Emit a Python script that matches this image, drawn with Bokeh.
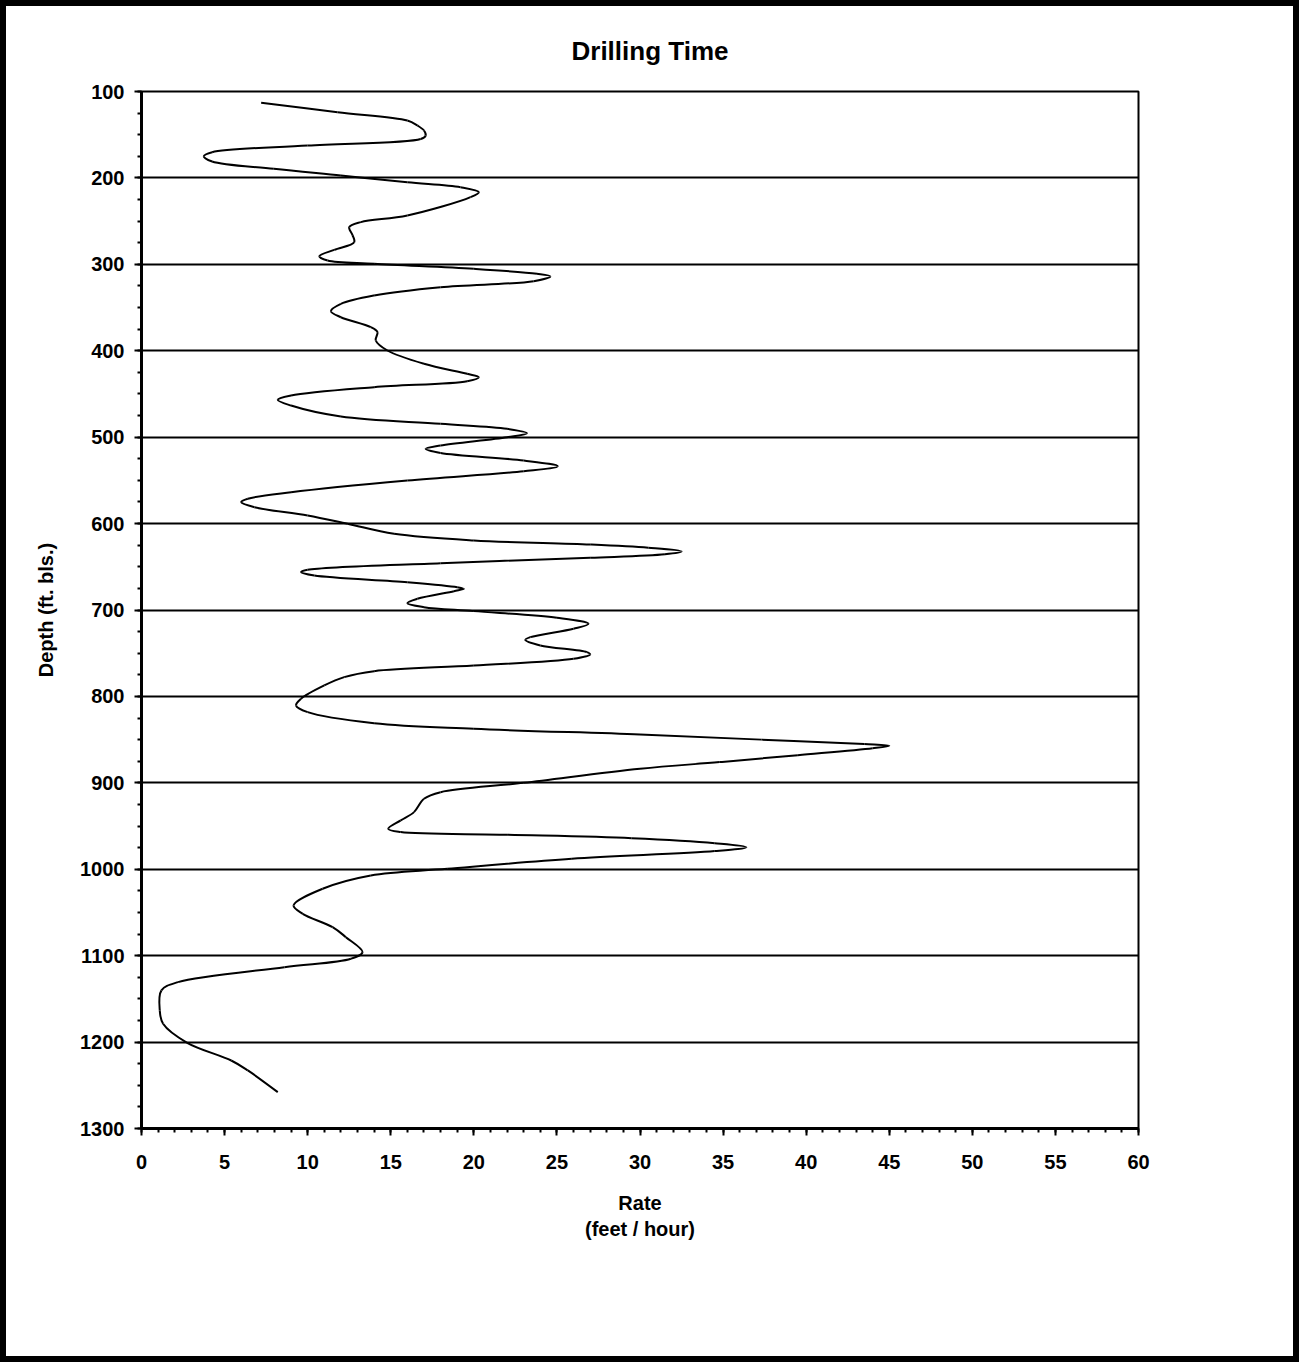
import math
from bokeh.plotting import figure
from bokeh.models import Range1d, SingleIntervalTicker, Title
from bokeh.embed import file_html
from bokeh.resources import INLINE

# Depth (ft below land surface) and drilling rate (feet / hour)
depth_ft = [113, 124, 133.6, 139.3, 145.1, 151, 154.9, 162.5, 170.2, 174.9, 181, 189.5, 197.2,
            205, 210.7, 216.5, 222.3, 243.5, 251.2, 257, 266.2, 274.4, 283.2, 290.6, 295.5,
            299.4, 305.2, 311, 314, 319.5, 326.4, 336, 345.7, 354.2, 361.2, 372.7, 378.5,
            388.1, 399.7, 415.1, 426.7, 430.6, 435.2, 442.1, 451.8, 456.8, 463.4, 476.1,
            484.6, 490.3, 495.4, 500, 509.6, 513.5, 518.4, 527, 533.6, 539.4, 550.1, 563.7,
            571.3, 575.2, 581, 590.6, 600.2, 611.8, 619.5, 624.2, 628, 632.3, 635.5, 639.6,
            645.8, 653.5, 656.2, 660.1, 667.8, 673.6, 675.5, 678.2, 687, 692, 696.7, 701.3,
            709, 716, 721.7, 731.4, 734.5, 741, 748.8, 751.5, 756.5, 764.2, 770.8, 777.7,
            787.3, 802.7, 810.5, 818.2, 831, 837.5, 844, 850, 855, 857, 860, 868, 876, 883.7,
            900, 910.8, 918.5, 933.9, 943.5, 953.2, 957, 960, 964, 969.8, 974.4, 979, 987.9,
            999.5, 1007.2, 1022.6, 1041.9, 1051.6, 1067, 1078.6, 1095.9, 1103.6, 1113.3,
            1130.6, 1140.2, 1163.4, 1178.8, 1200.8, 1221.3, 1232.8, 1257.9]
rate_fph = [7.2, 11.8, 16.0, 16.6, 17.0, 17.1, 16.8, 10.0, 4.25, 3.75, 4.25, 7.96, 12.0,
            16.0, 19.2, 20.3, 19.8, 16.0, 13.2, 12.5, 12.7, 12.8, 11.6, 10.7, 11.2,
            14.0, 20.0, 23.8, 24.6, 23.6, 18.0, 14.0, 12.0, 11.4, 12.0, 13.8, 14.2,
            14.1, 14.8, 17.0, 19.6, 20.3, 19.6, 14.0, 9.0, 8.2, 9.0, 12.0,
            18.0, 22.0, 23.2, 22.0, 18.0, 17.1, 18.0, 23.0, 25.05, 23.0, 16.0, 9.0,
            6.4, 6.0, 6.8, 10.0, 12.4, 15.2, 20.0, 27.0, 30.5, 32.5, 31.5, 27.0,
            18.0, 10.0, 9.6, 10.4, 16.0, 19.0, 19.4, 18.8, 16.6, 16.0, 17.0, 20.0,
            25.0, 26.9, 26.0, 23.4, 23.1, 24.0, 26.8, 27.0, 26.0, 20.0, 14.0, 12.2,
            11.0, 9.6, 9.3, 10.0, 14.0, 20.0, 30.0, 37.3, 43.5, 45.0, 44.0, 39.5, 34.8, 30.0,
            23.0, 18.0, 17.0, 16.4, 15.6, 14.85, 15.6, 22.0, 29.5, 34.5, 36.4, 34.5, 25.9,
            18.4, 13.8, 10.9, 9.15, 9.7, 11.5, 12.3, 13.3, 12.6, 8.6,
            2.2, 1.2, 1.1, 1.3, 2.75, 5.4, 6.4, 8.2]

FONT = "Liberation Sans"

p = figure(width=1299, height=1362, output_backend="svg", toolbar_location=None,
           x_range=Range1d(0, 60), y_range=Range1d(1300, 100),
           min_border_left=135, min_border_right=167, min_border_top=85, min_border_bottom=240,
           title=None)
p.styles = {"border": "6px solid black", "box-sizing": "border-box"}
p.background_fill_color = "white"
p.border_fill_color = "white"
p.outline_line_color = "black"
p.outline_line_width = 2

t = Title(text="Drilling Time", align="left", offset=430, standoff=52,
          text_font=FONT, text_font_size="26px", text_font_style="bold", text_color="black")
p.add_layout(t, "above")

# Smoothed curve through the read points: centripetal Catmull-Rom, drawn as cubic Bezier
# segments by Bokeh's bezier glyph (distances measured with the chart's aspect).
SX, SY = 16.62, 0.864   # approx. pixels per unit on each axis, used only for spacing weights
n = len(rate_fph)
pts = list(zip(rate_fph, depth_ft))


def dist(a, b):
    return math.sqrt(math.hypot((a[0] - b[0]) * SX, (a[1] - b[1]) * SY)) + 1e-9


x0, y0, x1, y1, cx0, cy0, cx1, cy1 = [], [], [], [], [], [], [], []
for i in range(n - 1):
    P1, P2 = pts[i], pts[i + 1]
    P0 = pts[i - 1] if i > 0 else None
    P3 = pts[i + 2] if i + 2 < n else None
    d2 = dist(P1, P2)
    if P0 is None:
        B1 = P1
    else:
        d1 = dist(P0, P1)
        B1 = tuple((d1 * d1 * P2[k] - d2 * d2 * P0[k] + (2 * d1 * d1 + 3 * d1 * d2 + d2 * d2) * P1[k])
                   / (3 * d1 * (d1 + d2)) for k in range(2))
    if P3 is None:
        B2 = P2
    else:
        d3 = dist(P2, P3)
        B2 = tuple((d3 * d3 * P1[k] - d2 * d2 * P3[k] + (2 * d3 * d3 + 3 * d3 * d2 + d2 * d2) * P2[k])
                   / (3 * d3 * (d3 + d2)) for k in range(2))
    x0.append(P1[0]); y0.append(P1[1]); x1.append(P2[0]); y1.append(P2[1])
    cx0.append(B1[0]); cy0.append(B1[1]); cx1.append(B2[0]); cy1.append(B2[1])

p.bezier(x0=x0, y0=y0, x1=x1, y1=y1, cx0=cx0, cy0=cy0, cx1=cx1, cy1=cy1,
         line_color="black", line_width=2)

# axes
p.xaxis.ticker = SingleIntervalTicker(interval=5, num_minor_ticks=5)
p.yaxis.ticker = SingleIntervalTicker(interval=100, num_minor_ticks=4)
for ax in (p.xaxis[0], p.yaxis[0]):
    ax.axis_line_width = 3
    ax.axis_line_color = "black"
    ax.major_tick_line_width = 2
    ax.minor_tick_line_width = 2
    ax.major_tick_line_color = "black"
    ax.minor_tick_line_color = "black"
    ax.major_tick_out = 7
    ax.major_tick_in = 0
    ax.minor_tick_out = 4
    ax.minor_tick_in = 0
    ax.major_label_text_font = FONT
    ax.major_label_text_font_size = "20px"
    ax.major_label_text_font_style = "bold"
    ax.major_label_text_color = "black"
    ax.axis_label_text_font = FONT
    ax.axis_label_text_font_size = "20px"
    ax.axis_label_text_font_style = "bold"
    ax.axis_label_text_color = "black"

p.xaxis.axis_label = "Rate\n(feet / hour)"
p.xaxis.major_label_standoff = 19
p.xaxis.axis_label_standoff = 20
p.yaxis.axis_label = "Depth (ft. bls.)"
p.yaxis.major_label_standoff = 10
p.yaxis.axis_label_standoff = 20

p.xgrid.visible = False
p.ygrid.grid_line_color = "black"
p.ygrid.grid_line_width = 2
p.ygrid.grid_line_alpha = 1.0

open("out.html", "w").write(file_html(p, INLINE))
